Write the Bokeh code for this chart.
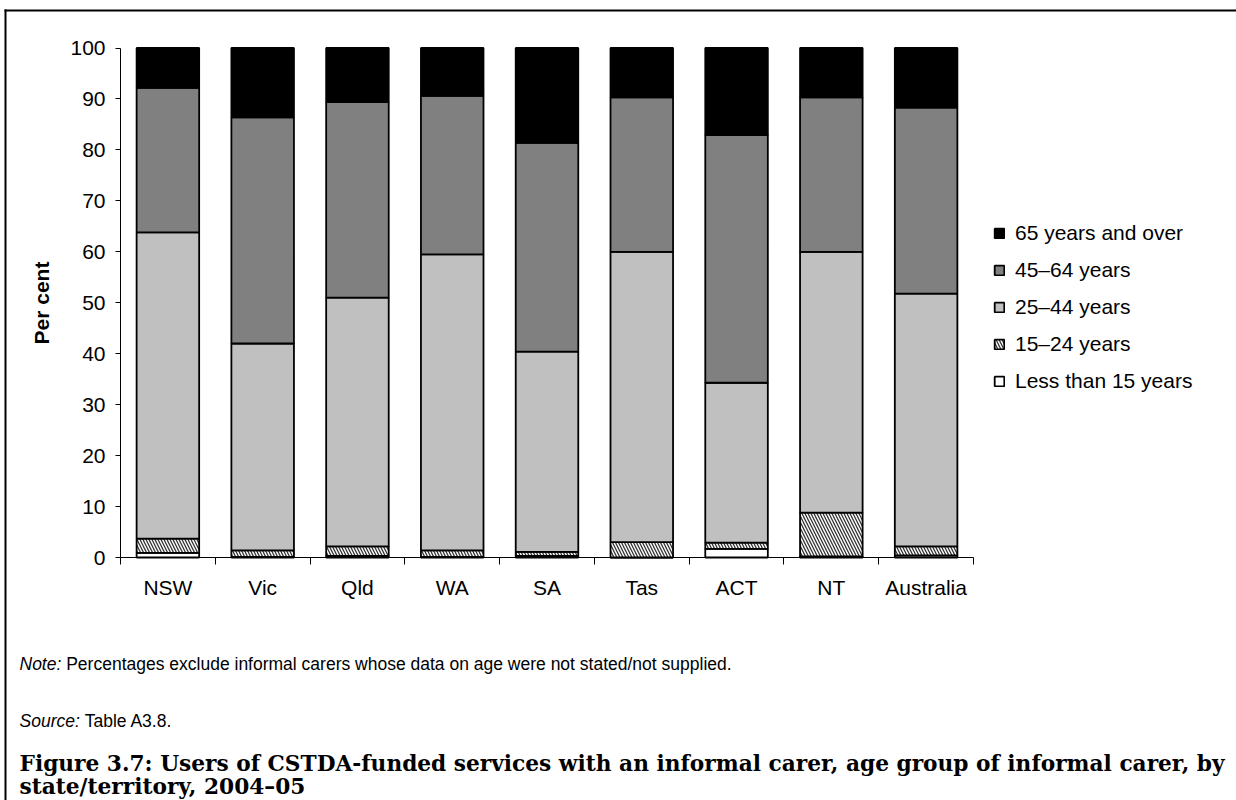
from bokeh.plotting import figure
from bokeh.models import (Range1d, FixedTicker, Legend, LegendItem, ColumnDataSource,
                          LinearAxis, Label, BoxAnnotation)
from bokeh.embed import file_html
from bokeh.resources import INLINE

# ---- data (per cent) ----
states = ["NSW", "Vic", "Qld", "WA", "SA", "Tas", "ACT", "NT", "Australia"]
age_groups = ["Less than 15 years", "15\u201324 years", "25\u201344 years",
              "45\u201364 years", "65 years and over"]
lt15 = [0.9, 0.1, 0.3, 0.1, 0.3, 0.0, 1.7, 0.2, 0.4]
a15_24 = [2.8, 1.3, 1.9, 1.3, 0.8, 3.0, 1.2, 8.6, 1.8]
a25_44 = [60.1, 40.6, 48.8, 58.1, 39.3, 57.0, 31.4, 51.2, 49.6]
a45_64 = [28.4, 44.4, 38.4, 31.1, 41.0, 30.3, 48.6, 30.3, 36.5]
a65 = [7.8, 13.6, 10.6, 9.4, 18.6, 9.7, 17.1, 9.7, 11.7]
y_ticks = [0, 10, 20, 30, 40, 50, 60, 70, 80, 90, 100]

note_label = "Note:"
note_text = "Percentages exclude informal carers whose data on age were not stated/not supplied."
source_label = "Source:"
source_text = "Table A3.8."
title_line1 = ("Figure 3.7: Users of CSTDA-funded services with an informal carer, "
               "age group of informal carer, by")
title_line2 = "state/territory, 2004\u201305"

# ---- layout: the plot frame fills the whole canvas; axes sit at fixed locations ----
W, H = 1236, 800
AX_L, AX_R, AX_T, AX_B = 120, 973, 47.5, 557     # page px of the value area
SANS = "Liberation Sans"
SERIF = "DejaVu Serif"
NOTE_SIZE = 17.5
n = len(states)
xpx = (AX_R - AX_L) / n
ypx = (AX_B - AX_T) / 100.0

xs = [i + 0.5 for i in range(n)]
src = ColumnDataSource(dict(x=xs, lt15=lt15, a15_24=a15_24, a25_44=a25_44,
                            a45_64=a45_64, a65=a65))

p = figure(width=W, height=H,
           x_range=Range1d(-AX_L / xpx, (W - AX_L) / xpx),
           y_range=Range1d(-(H - AX_B) / ypx, 100 + AX_T / ypx),
           output_backend="svg", toolbar_location=None,
           x_axis_location=None, y_axis_location=None,
           min_border=0, min_border_left=0, min_border_right=0,
           min_border_top=0, min_border_bottom=0)
p.outline_line_color = None
p.xgrid.visible = False
p.ygrid.visible = False

rs = p.vbar_stack(["lt15", "a15_24", "a25_44", "a45_64", "a65"], x="x", width=0.66,
                  source=src,
                  fill_color=["white", "white", "#c0c0c0", "#808080", "black"],
                  line_color="black", line_width=1.8,
                  hatch_pattern=[" ", "\\", " ", " ", " "],
                  hatch_color="#333333", hatch_scale=6, hatch_weight=1.3)

# x axis: labels at category centres, tick marks at category boundaries
xaxis = LinearAxis(fixed_location=0, bounds=(0, n),
                   ticker=FixedTicker(ticks=xs, minor_ticks=list(range(n + 1))),
                   major_label_overrides={x: s for x, s in zip(xs, states)},
                   major_tick_out=7, major_tick_in=0, major_tick_line_color=None,
                   minor_tick_out=7, minor_tick_in=0, minor_tick_line_color="black",
                   major_label_standoff=11)
yaxis = LinearAxis(fixed_location=0, bounds=(0, 100), ticker=FixedTicker(ticks=y_ticks),
                   major_tick_out=5, major_tick_in=0, major_tick_line_color="black",
                   minor_tick_line_color=None, major_label_standoff=10,
                   axis_label="Per cent", axis_label_standoff=14,
                   axis_label_text_font_style="bold")
for ax in (xaxis, yaxis):
    ax.axis_line_color = "black"
    ax.major_label_text_font = SANS
    ax.major_label_text_font_size = "21px"
    ax.major_label_text_color = "black"
    ax.axis_label_text_font = SANS
    ax.axis_label_text_font_size = "21px"
    ax.axis_label_text_color = "black"
p.add_layout(xaxis, "below")
p.add_layout(yaxis, "left")

items = [LegendItem(label=age_groups[i], renderers=[rs[i]]) for i in reversed(range(5))]
legend = Legend(items=items, location=(993, H - 393), orientation="vertical",
                border_line_color=None, background_fill_alpha=0,
                glyph_width=12, glyph_height=12, label_standoff=10,
                spacing=13, padding=0, margin=0, label_height=24,
                label_text_font=SANS, label_text_font_size="21px",
                label_text_color="black")
p.add_layout(legend)


def lab(text, px, py, font=SANS, size=NOTE_SIZE, style="normal"):
    p.add_layout(Label(x=px, y=H - py, x_units="screen", y_units="screen", text=text,
                       text_font=font, text_font_size=f"{size}px", text_font_style=style,
                       text_baseline="middle", text_align="left", text_color="black"))


# label widths (Arial metrics, em): "Note: " = 2.668, "Source: " = 3.724
lab(note_label, 19, 663, style="italic")
lab(note_text, 19 + 2.668 * NOTE_SIZE, 663)
lab(source_label, 19, 720, style="italic")
lab(source_text, 19 + 3.724 * NOTE_SIZE, 720)
lab(title_line1, 19, 763, font=SERIF, size=21.7, style="bold")
lab(title_line2, 19, 786, font=SERIF, size=21.7, style="bold")

# page frame (top and left rules)
for l, r, b, t in [(4, W, H - 11, H - 9), (4, 6, 0, H - 9)]:
    p.add_layout(BoxAnnotation(left=l, right=r, bottom=b, top=t,
                               left_units="screen", right_units="screen",
                               bottom_units="screen", top_units="screen",
                               fill_color="black", fill_alpha=1, line_color=None))

open("out.html", "w").write(file_html(p, INLINE))
